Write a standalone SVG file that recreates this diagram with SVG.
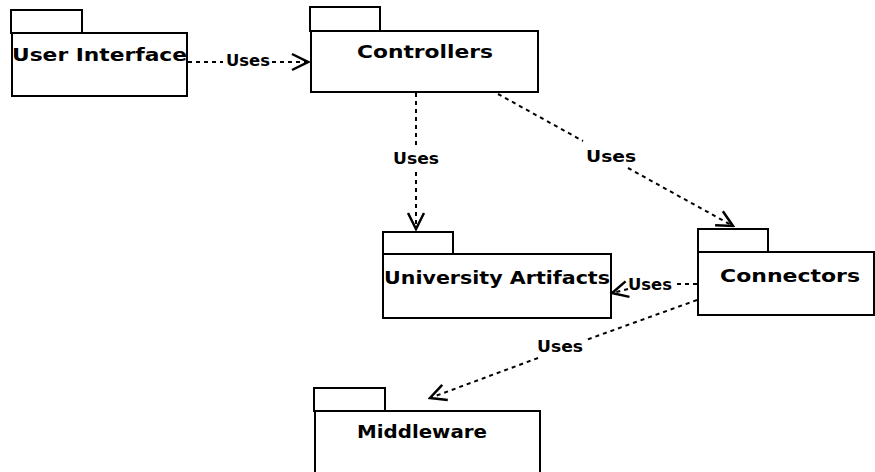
<svg xmlns="http://www.w3.org/2000/svg" width="875" height="472" viewBox="0 0 875 472">
  <style>
    .pkg rect { fill: #fff; stroke: #000; stroke-width: 2; }
    .name { font-family: "DejaVu Sans", "Liberation Sans", sans-serif; font-weight: bold; font-size: 18px; fill: #000; }
    .lbl { font-family: "DejaVu Sans", "Liberation Sans", sans-serif; font-weight: bold; font-size: 15px; fill: #000; }
    .dep { fill: none; stroke: #000; stroke-width: 2; stroke-dasharray: 4 4; }
  </style>
  <defs>
    <marker id="open" viewBox="0 0 20 20" refX="18" refY="10" markerWidth="20" markerHeight="20" markerUnits="userSpaceOnUse" orient="auto">
      <path d="M2 2 L18 10 L2 18" fill="none" stroke="#000" stroke-width="2.5"/>
    </marker>
  </defs>
  <rect width="875" height="472" fill="#fff"/>

  <g id="user-interface" class="pkg">
    <rect x="11" y="10" width="71" height="23"/>
    <rect x="12" y="33" width="175" height="63"/>
    <text class="name" x="12" y="61" textLength="175" lengthAdjust="spacingAndGlyphs">User Interface</text>
  </g>

  <g id="controllers" class="pkg">
    <rect x="310" y="7" width="70" height="24"/>
    <rect x="311" y="31" width="227" height="61"/>
    <text class="name" x="357" y="58" textLength="136" lengthAdjust="spacingAndGlyphs">Controllers</text>
  </g>

  <g id="university-artifacts" class="pkg">
    <rect x="383" y="232" width="70" height="22"/>
    <rect x="383" y="254" width="228" height="64"/>
    <text class="name" x="384" y="284" textLength="226" lengthAdjust="spacingAndGlyphs">University Artifacts</text>
  </g>

  <g id="connectors" class="pkg">
    <rect x="698" y="229" width="70" height="23"/>
    <rect x="698" y="252" width="176" height="63"/>
    <text class="name" x="720" y="282" textLength="140" lengthAdjust="spacingAndGlyphs">Connectors</text>
  </g>

  <g id="middleware" class="pkg">
    <rect x="314" y="388" width="71" height="23"/>
    <rect x="315" y="411" width="225" height="64"/>
    <text class="name" x="357" y="438" textLength="130" lengthAdjust="spacingAndGlyphs">Middleware</text>
  </g>

  <g id="connectors-edges">
    <!-- User Interface -> Controllers -->
    <line class="dep" x1="188" y1="62" x2="223" y2="62"/>
    <line class="dep" x1="272" y1="62" x2="308" y2="62" marker-end="url(#open)"/>
    <text class="lbl" x="226" y="66" textLength="44" lengthAdjust="spacingAndGlyphs">Uses</text>

    <!-- Controllers -> University Artifacts -->
    <line class="dep" x1="416" y1="93" x2="416" y2="146"/>
    <line class="dep" x1="416" y1="172" x2="416" y2="229" marker-end="url(#open)"/>
    <text class="lbl" x="393" y="164" textLength="46" lengthAdjust="spacingAndGlyphs">Uses</text>

    <!-- Controllers -> Connectors -->
    <line class="dep" x1="498" y1="94" x2="583" y2="141"/>
    <line class="dep" x1="628" y1="168" x2="733" y2="226" marker-end="url(#open)"/>
    <text class="lbl" x="586" y="162" textLength="50" lengthAdjust="spacingAndGlyphs">Uses</text>

    <!-- Connectors -> University Artifacts -->
    <line class="dep" x1="697" y1="284" x2="676" y2="284"/>
    <line class="dep" x1="628" y1="289" x2="612" y2="293" marker-end="url(#open)"/>
    <text class="lbl" x="628" y="290" textLength="44" lengthAdjust="spacingAndGlyphs">Uses</text>

    <!-- Connectors -> Middleware -->
    <line class="dep" x1="697" y1="300" x2="586" y2="340"/>
    <line class="dep" x1="538" y1="358" x2="430" y2="398" marker-end="url(#open)"/>
    <text class="lbl" x="537" y="352" textLength="46" lengthAdjust="spacingAndGlyphs">Uses</text>
  </g>
</svg>
